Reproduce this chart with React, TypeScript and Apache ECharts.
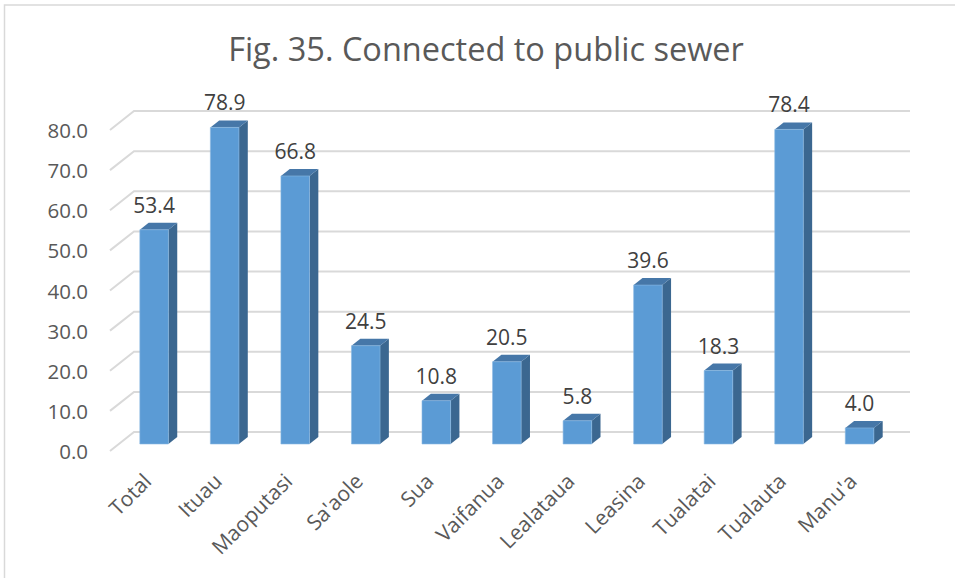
import React, { useEffect, useRef } from 'react';
import * as echarts from 'echarts';

const categories = ['Total', 'Ituau', 'Maoputasi', "Sa'aole", 'Sua', 'Vaifanua', 'Lealataua', 'Leasina', 'Tualatai', 'Tualauta', "Manu'a"];
const values = [53.4, 78.9, 66.8, 24.5, 10.8, 20.5, 5.8, 39.6, 18.3, 78.4, 4.0];
const yTicks = [0, 10, 20, 30, 40, 50, 60, 70, 80];
const titleText = 'Fig. 35. Connected to public sewer';

export default function App() {
  const ref = useRef<HTMLDivElement>(null);
  useEffect(() => {
    document.body.style.margin = '0';
    const chart = echarts.init(ref.current!, null, { renderer: 'svg' });
    const DX = 24, DY = -19;
    const BF = 7 / 19, BB = 14 / 19;
    const font = '"Open Sans", sans-serif';
    const L = 110, R = 69, T = 130, B = 127;
    chart.setOption({
      animation: false,
      graphic: [
        { type: 'rect', shape: { x: 4.5, y: 5, width: 1200, height: 1200 }, style: { fill: 'none', stroke: '#d9d9d9', lineWidth: 1.5 }, silent: true },
        { type: 'text', x: 486, y: 48, style: { text: titleText, fontSize: 32.5, fill: '#595959', fontFamily: font, align: 'center', verticalAlign: 'middle' } },
      ],
      grid: [
        { left: L, right: R, top: T, bottom: B },
        { left: L + DX * BF, right: R - DX * BF, top: T + DY * BF, bottom: B - DY * BF },
      ],
      xAxis: [
        { gridIndex: 0, type: 'category', data: categories, show: false },
        {
          gridIndex: 1, type: 'category', data: categories,
          axisLine: { show: false }, axisTick: { show: false },
          axisLabel: { rotate: 45, interval: 0, fontSize: 21, color: '#595959', fontFamily: font, margin: 26, padding: [0, 10, 0, 0] },
        },
      ],
      yAxis: [
        {
          gridIndex: 0, type: 'value', min: 0, max: 80, interval: 10,
          axisLine: { show: false }, axisTick: { show: false }, splitLine: { show: false },
          axisLabel: { formatter: (v: number) => v.toFixed(1), fontSize: 20.5, color: '#595959', fontFamily: font, margin: 22 },
        },
        { gridIndex: 1, type: 'value', min: 0, max: 80, interval: 10, show: false },
      ],
      series: [
        {
          type: 'custom', xAxisIndex: 0, yAxisIndex: 0, silent: true, z: 1,
          data: yTicks.map((v) => [0, v]),
          encode: { x: 0, y: 1 },
          renderItem: (params: any, api: any) => {
            const cs = params.coordSys;
            const y = api.coord([0, api.value(1)])[1];
            return {
              type: 'polyline',
              shape: { points: [[cs.x, y], [cs.x + DX, y + DY], [cs.x + cs.width + DX, y + DY]] },
              style: { fill: 'none', stroke: '#d9d9d9', lineWidth: 2 },
            };
          },
        },
        {
          type: 'custom', xAxisIndex: 1, yAxisIndex: 1, silent: true, z: 2,
          data: values.map((v, i) => [i, v]),
          encode: { x: 0, y: 1 },
          renderItem: (params: any, api: any) => {
            const i = api.value(0);
            const v = api.value(1);
            const [cx, yt] = api.coord([i, v]);
            const y0 = api.coord([i, 0])[1];
            const w = api.size([1, 0])[0] * 0.405;
            const x = cx - w / 2;
            const bd = DX * (BB - BF);
            const bdy = DY * (BB - BF);
            return {
              type: 'group',
              children: [
                {
                  type: 'polygon',
                  shape: { points: [[x + w, yt], [x + w + bd, yt + bdy], [x + w + bd, y0 + bdy], [x + w, y0]] },
                  style: { fill: '#3b6790' },
                },
                {
                  type: 'polygon',
                  shape: { points: [[x, yt], [x + bd, yt + bdy], [x + w + bd, yt + bdy], [x + w, yt]] },
                  style: { fill: '#4677a8' },
                },
                {
                  type: 'rect',
                  shape: { x, y: yt, width: w, height: y0 - yt },
                  style: { fill: '#5b9bd5', stroke: '#8ab8e3', lineWidth: 0.6 },
                },
                {
                  type: 'text', x: cx, y: yt - 25,
                  style: { text: v.toFixed(1), fontSize: 21, fill: '#404040', fontFamily: font, align: 'center', verticalAlign: 'middle' },
                },
              ],
            };
          },
        },
      ],
    });
    return () => chart.dispose();
  }, []);
  return <div ref={ref} style={{ width: 955, height: 578 }} />;
}
